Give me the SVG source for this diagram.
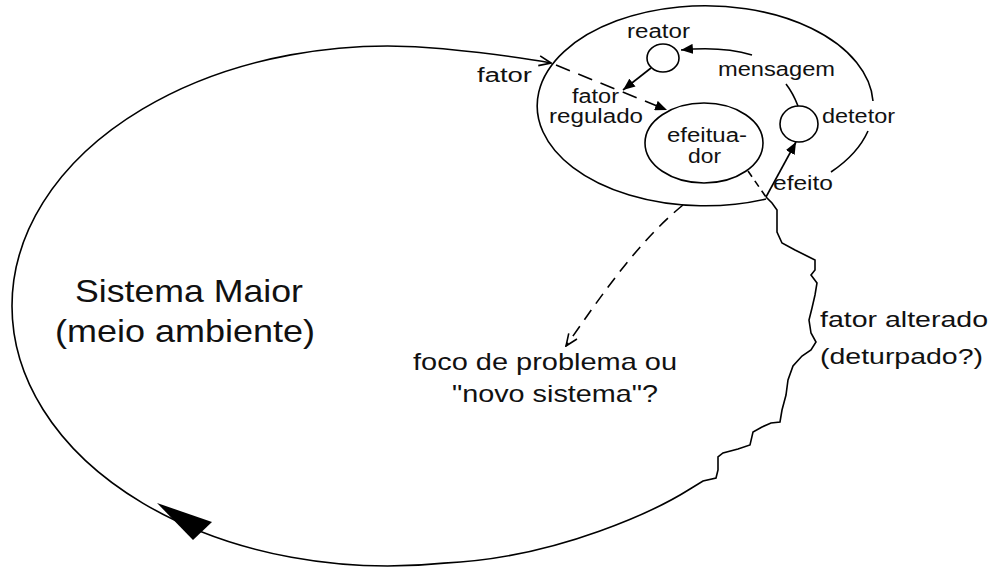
<svg xmlns="http://www.w3.org/2000/svg" width="994" height="567" viewBox="0 0 994 567">
<style>
.ln{fill:none;stroke:#000;stroke-width:1.6}
.sh{fill:none;stroke:#000;stroke-width:1.6}
.dash{stroke-dasharray:15 9}
.dash2{stroke-dasharray:7 5}
.dash3{stroke-dasharray:12 8}
text{font-family:"Liberation Sans",Arial,sans-serif;fill:#111}
.s{font-size:20px}
.m{font-size:22px}
.l{font-size:24px}
.xl{font-size:32px}
</style>
<defs>
<marker id="fa" viewBox="0 0 12 10" refX="12" refY="5" markerWidth="12" markerHeight="10" markerUnits="userSpaceOnUse" orient="auto"><path d="M0,0 L12,5 L0,10 z" fill="#000"/></marker>
<marker id="oa" viewBox="0 0 14 12" refX="13" refY="6" markerWidth="14" markerHeight="12" markerUnits="userSpaceOnUse" orient="auto"><path d="M1,1 L13,6 L1,11" fill="none" stroke="#000" stroke-width="1.6"/></marker>
</defs>
<rect width="994" height="567" fill="#fff"/>
<g id="ambiente">
<text class="xl" x="75" y="302" textLength="228" lengthAdjust="spacingAndGlyphs">Sistema Maior</text>
<text class="xl" x="55" y="342" textLength="260" lengthAdjust="spacingAndGlyphs">(meio ambiente)</text>
</g>
<g id="sistema">
<path class="sh" d="M 873 101 A 168 100 0 1 0 766 199"/>
<path class="sh" d="M 831 172 A 168 100 0 0 0 868 131"/>
</g>
<g id="reator">
<ellipse class="sh" cx="663" cy="58" rx="16" ry="14"/>
<text class="s" x="627" y="38" textLength="63" lengthAdjust="spacingAndGlyphs">reator</text>
</g>
<g id="detetor">
<ellipse class="sh" cx="799" cy="124" rx="19" ry="18"/>
<text class="s" x="822" y="123" textLength="73" lengthAdjust="spacingAndGlyphs">detetor</text>
</g>
<g id="efeituador">
<ellipse class="sh" cx="704" cy="143" rx="59" ry="40"/>
<text class="s" x="667" y="142" textLength="80" lengthAdjust="spacingAndGlyphs">efeitua-</text>
<text class="s" x="688" y="163" textLength="33" lengthAdjust="spacingAndGlyphs">dor</text>
</g>
<g id="fator-regulado">
<text class="s" x="572" y="103" textLength="47" lengthAdjust="spacingAndGlyphs">fator</text>
<text class="s" x="549" y="123" textLength="94" lengthAdjust="spacingAndGlyphs">regulado</text>
</g>
<g id="foco">
<text class="l" x="413" y="370" textLength="264" lengthAdjust="spacingAndGlyphs">foco de problema ou</text>
<text class="l" x="452" y="402" textLength="206" lengthAdjust="spacingAndGlyphs">"novo sistema"?</text>
</g>
<g id="fator-alterado">
<text class="m" x="820" y="327" textLength="168" lengthAdjust="spacingAndGlyphs">fator alterado</text>
<text class="m" x="820" y="364" textLength="163" lengthAdjust="spacingAndGlyphs">(deturpado?)</text>
</g>
<g id="connectors">
<path class="ln" marker-end="url(#oa)" d="M 766 197 L 772 203 L 777 210 L 777 232 L 782 243 L 795 250 L 807 256 L 815 260 L 815 270 L 811 275 L 817 283 L 815 295 L 812 308 L 809 320 L 811 333 L 816 342 L 811 350 L 802 356 L 793 366 L 788 380 L 786 395 L 782 410 L 780 422 L 771 423 L 762 427 L 753 432 L 750 445 L 738 449 L 723 453 L 718 457 L 718 470 L 716 478 L 703 481 L 690 489 C 660 508, 560 558, 444 563.1 A 376 260 0 0 1 12 306 A 376 260 0 0 1 443 48.8 C 480 52.5, 520 57, 551 63"/>
<polygon points="157,503 212,522 193,540" fill="#000"/>
<path class="ln dash" marker-end="url(#fa)" d="M 556 65 L 667 110"/>
<path class="ln dash2" d="M 748 171 L 766 197"/>
<path class="ln" marker-end="url(#fa)" d="M 766 197 L 796 142"/>
<path class="ln" marker-end="url(#fa)" d="M 651 68 L 623 90"/>
<path class="ln" d="M 798 106 Q 793 93 786 84"/>
<path class="ln" marker-end="url(#fa)" d="M 752 55 Q 722 46 681 50"/>
<path class="ln dash3" marker-end="url(#oa)" d="M 683 205 C 640 240, 605 290, 566 346"/>
</g>
<text class="s" x="477" y="82" textLength="55" lengthAdjust="spacingAndGlyphs">fator</text>
<text class="s" x="773" y="190" textLength="60" lengthAdjust="spacingAndGlyphs">efeito</text>
<text class="s" x="718" y="76" textLength="117" lengthAdjust="spacingAndGlyphs">mensagem</text>
</svg>
